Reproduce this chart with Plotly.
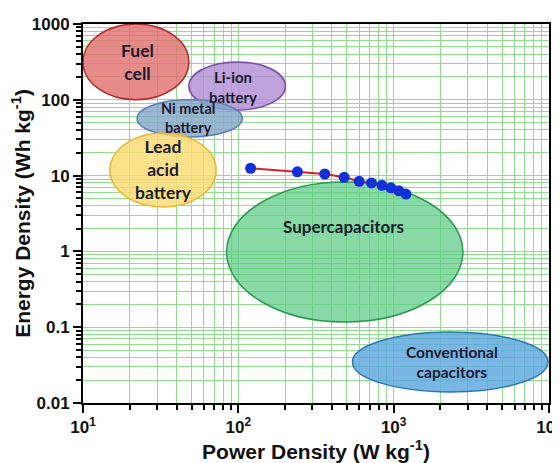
import numpy as np
import plotly.graph_objects as go

# ---- data ----
power = [120, 240, 360, 480, 600, 720, 840, 960, 1080, 1200]          # W/kg
energy = [12.5, 11.2, 10.5, 9.5, 8.4, 8.0, 7.45, 6.9, 6.3, 5.7]       # Wh/kg

regions = ["Fuel cell", "Li-ion battery", "Ni metal battery", "Lead acid battery",
           "Supercapacitors", "Conventional capacitors"]
region_labels = ["Fuel<br>cell", "Li-ion<br>battery", "Ni metal<br>battery",
                 "Lead<br>acid<br>battery", "Supercapacitors", "Conventional<br>capacitors"]
p_min = [10, 48, 22.3, 14.9, 84, 543]
p_max = [48, 201, 106, 72, 2790, 9860]
e_min = [100, 73, 32.3, 3.86, 0.117, 0.014]
e_max = [1000, 316, 100, 36.5, 8.24, 0.0865]
label_p = [22.3, 92.9, 47.5, 32.8, 475, 2366]
label_e = [316, 147, 57.5, 11.9, 2.1, 0.0347]

x_tickvals = [10, 100, 1000, 10000]
x_ticktext = ["10<sup>1</sup>", "10<sup>2</sup>", "10<sup>3</sup>", "10<sup>4</sup>"]
y_tickvals = [0.01, 0.1, 1, 10, 100, 1000]
y_ticktext = ["0.01", "0.1", "1", "10", "100", "1000"]

# ---- styles ----
fills = ["rgba(224,112,112,0.82)", "rgba(178,142,214,0.82)", "rgba(132,166,200,0.82)",
         "rgba(250,220,112,0.82)", "rgba(92,202,132,0.72)", "rgba(92,166,222,0.82)"]
borders = ["#b02828", "#7a4aa8", "#5a80b0", "#e8b830", "#2a9a50", "#2a78b0"]
label_sizes = [17.5, 15, 14.5, 17.5, 17, 15.5]

fig = go.Figure()

fig.add_trace(go.Scatter(
    x=power, y=energy, mode="lines+markers",
    line=dict(color="#d82020", width=2),
    marker=dict(color="#1030d8", size=11, line=dict(width=0)),
    showlegend=False,
))

for i in range(len(regions)):
    fig.add_shape(type="circle", xref="x", yref="y",
                  x0=p_min[i], x1=p_max[i], y0=e_min[i], y1=e_max[i],
                  fillcolor=fills[i], line=dict(color=borders[i], width=1.5),
                  layer="between")
    fig.add_annotation(x=np.log10(label_p[i]), y=np.log10(label_e[i]),
                       text=region_labels[i], showarrow=False,
                       font=dict(family="Lato, Open Sans, sans-serif", size=label_sizes[i],
                                 color="#1a1a30", weight="bold"))

grid_col = "#8ede8e"
axis_common = dict(
    type="log", showline=True, linecolor="black", linewidth=2, mirror=True,
    ticks="outside", ticklen=8, tickwidth=2, tickcolor="black",
    showgrid=True, gridcolor=grid_col, gridwidth=1,
    minor=dict(ticks="outside", ticklen=5, tickwidth=1.5, tickcolor="black",
               showgrid=True, gridcolor=grid_col, gridwidth=1, dtick="D1"),
    tickfont=dict(family="Liberation Sans, Arial", size=17, color="#111", weight="bold"),
    zeroline=False, automargin=False, ticklabeloverflow="allow",
)

fig.update_xaxes(**axis_common, range=[1, 4], tickvals=x_tickvals, ticktext=x_ticktext,
                 title=dict(text="Power Density (W kg<sup>-1</sup>)", standoff=4,
                            font=dict(family="Liberation Sans, Arial", size=21,
                                      color="#111", weight="bold")))
fig.update_yaxes(**axis_common, range=[-2, 3], tickvals=y_tickvals, ticktext=y_ticktext,
                 title=dict(text="Energy Density (Wh kg<sup>-1</sup>)", standoff=6,
                            font=dict(family="Liberation Sans, Arial", size=21,
                                      color="#111", weight="bold")))

# the page body adds an 8px offset, so the figure is 8px smaller and shifted
fig.update_layout(
    width=552, height=455,
    margin=dict(l=75, r=11, t=16, b=60),
    paper_bgcolor="white", plot_bgcolor="white",
    showlegend=False,
)

fig.write_html("out.html")
